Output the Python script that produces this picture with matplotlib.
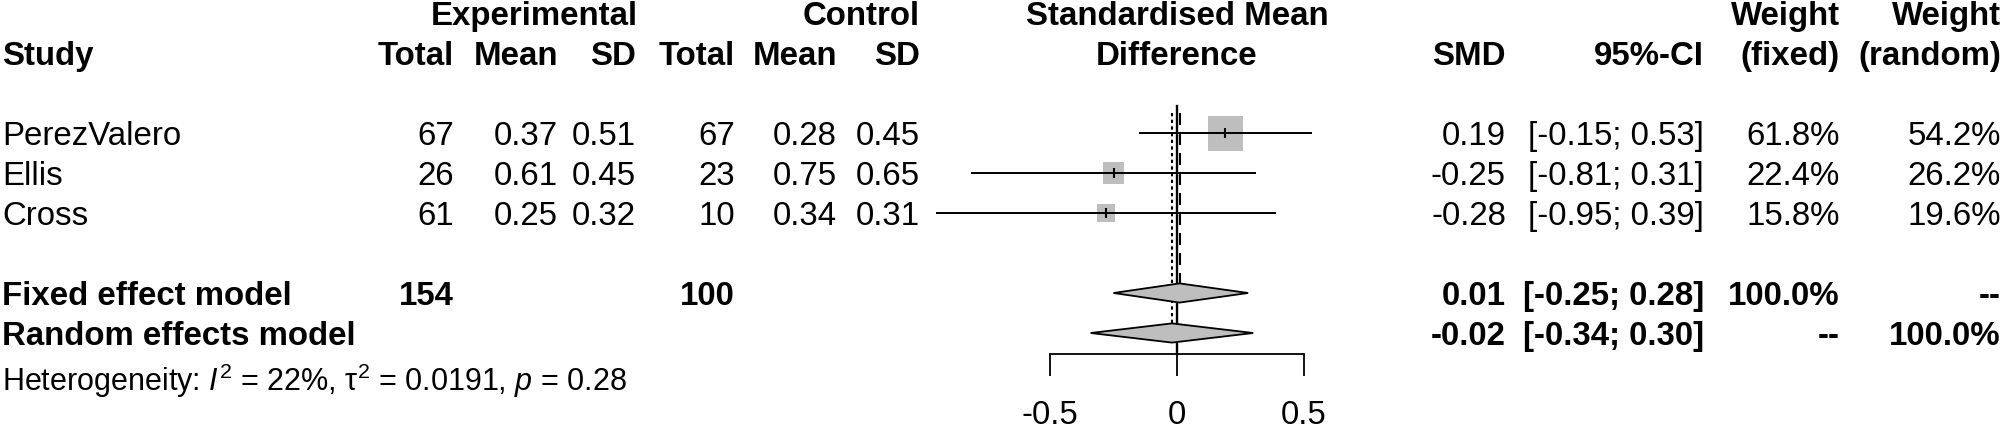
import matplotlib
matplotlib.use('Agg')
import matplotlib.pyplot as plt
from matplotlib.patches import Polygon
from matplotlib.ticker import FuncFormatter
import numpy as np

# data
studies = ['PerezValero', 'Ellis', 'Cross']
n_exp = [67, 26, 61]
mean_exp = [0.37, 0.61, 0.25]
sd_exp = [0.51, 0.45, 0.32]
n_ctrl = [67, 23, 10]
mean_ctrl = [0.28, 0.75, 0.34]
sd_ctrl = [0.45, 0.65, 0.31]
smd = [0.19, -0.25, -0.28]
ci_lo = [-0.15, -0.81, -0.95]
ci_hi = [0.53, 0.31, 0.39]
w_fixed = [61.8, 22.4, 15.8]
w_random = [54.2, 26.2, 19.6]
fixed = [0.01, -0.25, 0.28]     # est, lower, upper
random = [-0.02, -0.34, 0.30]
i2, tau2, p_het = 22, 0.0191, 0.28
ticks = [-0.5, 0, 0.5]

plt.rcParams['font.family'] = ['Liberation Sans', 'DejaVu Sans']
plt.rcParams['mathtext.fontset'] = 'custom'
plt.rcParams['mathtext.rm'] = 'Liberation Sans'
plt.rcParams['mathtext.it'] = 'Liberation Sans:italic'
plt.rcParams['axes.unicode_minus'] = False
plt.rcParams['lines.scale_dashes'] = False

FS = 23.8
W, H = 2004, 432
fig = plt.figure(figsize=(W / 100, H / 100), dpi=100)

# text layer in pixel coordinates
tx = fig.add_axes([0, 0, 1, 1])
tx.set_xlim(0, W)
tx.set_ylim(H, 0)
tx.axis('off')


def base(r):
    # baseline of table row r
    return 25 + 40 * r


def put(x, r, s, ha='right', bold=False, size=FS):
    tx.text(x, base(r), s, ha=ha, va='baseline', fontsize=size,
            fontweight='bold' if bold else 'normal')


col_x = {'etot': 454, 'emean': 558, 'esd': 636, 'ctot': 735, 'cmean': 837,
         'csd': 920, 'smd': 1506, 'ci': 1704, 'wf': 1840, 'wr': 2001}

# headers
put(638, 0, 'Experimental', bold=True)
put(col_x['csd'], 0, 'Control', bold=True)
put(1177, 0, 'Standardised Mean', ha='center', bold=True)
put(1177, 1, 'Difference', ha='center', bold=True)
put(col_x['wf'], 0, 'Weight', bold=True)
put(col_x['wr'], 0, 'Weight', bold=True)
put(2, 1, 'Study', ha='left', bold=True)
for key, lab in [('etot', 'Total'), ('emean', 'Mean'), ('esd', 'SD'),
                 ('ctot', 'Total'), ('cmean', 'Mean'), ('csd', 'SD'),
                 ('smd', 'SMD'), ('ci', '95%-CI'), ('wf', '(fixed)'), ('wr', '(random)')]:
    put(col_x[key], 1, lab, bold=True)

# study rows
for i, name in enumerate(studies):
    r = 3 + i
    put(2, r, name, ha='left')
    put(col_x['etot'], r, f'{n_exp[i]}')
    put(col_x['emean'], r, f'{mean_exp[i]:.2f}')
    put(col_x['esd'], r, f'{sd_exp[i]:.2f}')
    put(col_x['ctot'], r, f'{n_ctrl[i]}')
    put(col_x['cmean'], r, f'{mean_ctrl[i]:.2f}')
    put(col_x['csd'], r, f'{sd_ctrl[i]:.2f}')
    put(col_x['smd'], r, f'{smd[i]:.2f}')
    put(col_x['ci'], r, f'[{ci_lo[i]:.2f}; {ci_hi[i]:.2f}]')
    put(col_x['wf'], r, f'{w_fixed[i]:.1f}%')
    put(col_x['wr'], r, f'{w_random[i]:.1f}%')

# pooled rows
put(2, 7, 'Fixed effect model', ha='left', bold=True)
put(col_x['etot'], 7, f'{sum(n_exp)}', bold=True)
put(col_x['ctot'], 7, f'{sum(n_ctrl)}', bold=True)
put(col_x['smd'], 7, f'{fixed[0]:.2f}', bold=True)
put(col_x['ci'], 7, f'[{fixed[1]:.2f}; {fixed[2]:.2f}]', bold=True)
put(col_x['wf'], 7, f'{sum(w_fixed):.1f}%', bold=True)
put(col_x['wr'], 7, '--', bold=True)

put(2, 8, 'Random effects model', ha='left', bold=True)
put(col_x['smd'], 8, f'{random[0]:.2f}', bold=True)
put(col_x['ci'], 8, f'[{random[1]:.2f}; {random[2]:.2f}]', bold=True)
put(col_x['wf'], 8, '--', bold=True)
put(col_x['wr'], 8, f'{sum(w_random):.1f}%', bold=True)

tx.text(2, 391, f'Heterogeneity: $I^2$ = {i2}%, τ$^2$ = {tau2:.4f}, $p$ = {p_het:.2f}',
        ha='left', va='baseline', fontsize=22)

# forest panel: x from -1..1 maps to 923..1431 px, rows map y_px = 13 + 40 r
top_px, bot_px = 100, 354
fa = fig.add_axes([923 / W, (H - bot_px) / H, 508 / W, (bot_px - top_px) / H])
fa.set_xlim(-1, 1)
fa.set_ylim((bot_px - 13) / 40, (top_px - 13) / 40)
fa.patch.set_visible(False)
for s in ['top', 'left', 'right']:
    fa.spines[s].set_visible(False)
fa.spines['bottom'].set_bounds(ticks[0], ticks[-1])
fa.spines['bottom'].set_linewidth(1.3)
fa.set_yticks([])
fa.set_xticks(ticks)
fa.xaxis.set_major_formatter(FuncFormatter(lambda v, _: f'{v:g}'))
fa.tick_params(axis='x', length=15.8, width=1.3, pad=17, labelsize=FS)

y_bottom = (bot_px - 13) / 40
fa.plot([0, 0], [2.325, y_bottom], color='black', lw=1.7, zorder=1, clip_on=False)
fa.plot([fixed[0]] * 2, [2.5, 7], color='black', lw=1.5, ls=(0, (8.6, 5.8)), zorder=1, clip_on=False)
fa.plot([random[0]] * 2, [2.5, 8], color='black', lw=1.5, ls=(0, (2.4, 2.4)), zorder=1, clip_on=False)

rows = np.arange(3, 3 + len(studies))
side_pt = 25.2 * np.sqrt(np.array(w_fixed) / max(w_fixed))
fa.scatter(smd, rows, s=side_pt ** 2, marker='s', color='#BEBEBE', linewidths=0, zorder=2, clip_on=False)
fa.hlines(rows, ci_lo, ci_hi, color='black', lw=1.4, zorder=3, clip_on=False)
fa.scatter(smd, rows, s=6.5 ** 2, marker='|', color='black', linewidths=1.5, zorder=4, clip_on=False)

hh = 0.24
for r, (est, lo, hi) in [(7, fixed), (8, random)]:
    fa.add_patch(Polygon([(lo, r), (est, r - hh), (hi, r), (est, r + hh)], closed=True,
                         facecolor='#BEBEBE', edgecolor='black', lw=1.3, zorder=5, clip_on=False))

fig.savefig('out.png', dpi=100)
